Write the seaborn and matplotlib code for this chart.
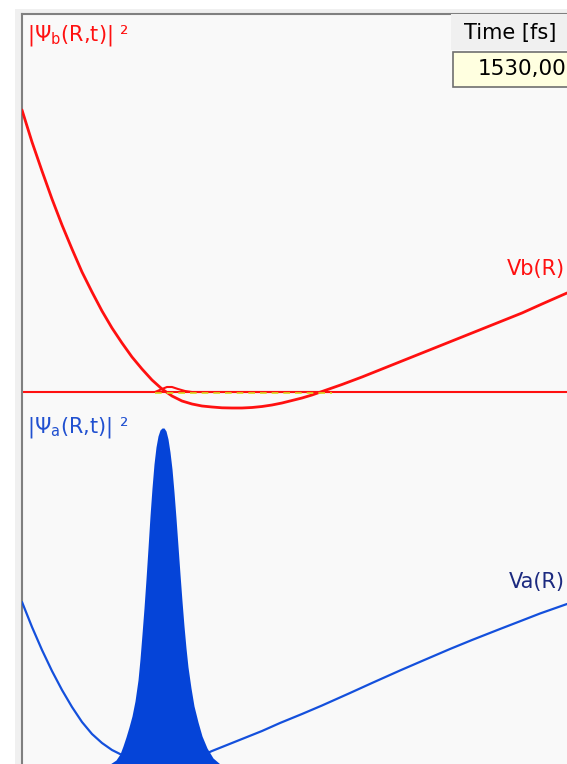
import numpy as np
import pandas as pd
import seaborn as sns
import matplotlib.pyplot as plt
from matplotlib.patches import Rectangle

# bond length R (arbitrary units) and energies
r_vb = [2.0, 2.1, 2.2, 2.3, 2.4, 2.5, 2.6, 2.7, 2.8, 2.9, 3.0, 3.1, 3.2, 3.3,
        3.4, 3.5, 3.6, 3.7, 3.8, 3.9, 4.0, 4.1, 4.2, 4.3, 4.4, 4.5, 4.6, 4.7,
        4.8, 4.9, 5.0, 5.2, 5.4, 5.6, 5.8, 6.0, 6.2, 6.4, 6.6, 6.8, 7.0, 7.2, 7.45]
vb = [6.54, 6.22, 5.93, 5.65, 5.39, 5.15, 4.92, 4.72, 4.53, 4.36, 4.21, 4.07,
      3.95, 3.84, 3.75, 3.68, 3.63, 3.60, 3.58, 3.57, 3.562, 3.56, 3.56, 3.565,
      3.575, 3.59, 3.61, 3.635, 3.66, 3.69, 3.725, 3.795, 3.87, 3.95, 4.03, 4.11,
      4.19, 4.27, 4.35, 4.43, 4.51, 4.60, 4.71]

r_va = [2.0, 2.1, 2.2, 2.3, 2.4, 2.5, 2.6, 2.7, 2.8, 2.9, 3.0, 3.1, 3.2, 3.3,
        3.41, 3.5, 3.6, 3.7, 3.81, 3.9, 4.0, 4.2, 4.4, 4.58, 4.8, 5.0, 5.28, 5.5,
        5.78, 6.0, 6.28, 6.5, 6.78, 7.0, 7.18, 7.45]
va = [1.62, 1.37, 1.14, 0.93, 0.74, 0.57, 0.42, 0.30, 0.21, 0.14, 0.09, 0.05,
      0.02, 0.00, -0.01, 0.00, 0.02, 0.05, 0.09, 0.13, 0.17, 0.25, 0.33, 0.41,
      0.50, 0.585, 0.71, 0.81, 0.935, 1.03, 1.15, 1.24, 1.35, 1.435, 1.505, 1.60]

# |Psi_a|^2 packet (drawn on top of E = 0)
r_pa = [2.88, 2.94, 2.98, 3.01, 3.04, 3.07, 3.10, 3.13, 3.16, 3.18, 3.20, 3.22,
        3.24, 3.26, 3.28, 3.30, 3.32, 3.34, 3.36, 3.38, 3.40, 3.41, 3.42, 3.44,
        3.46, 3.48, 3.50, 3.52, 3.54, 3.56, 3.58, 3.60, 3.62, 3.64, 3.66, 3.69,
        3.72, 3.76, 3.80, 3.85, 3.91, 3.98]
psi_a = [0.00, 0.04, 0.10, 0.18, 0.27, 0.37, 0.48, 0.63, 0.84, 1.05, 1.30, 1.56,
         1.85, 2.16, 2.48, 2.76, 3.00, 3.17, 3.28, 3.34, 3.36, 3.36, 3.36, 3.33,
         3.25, 3.12, 2.95, 2.72, 2.46, 2.18, 1.90, 1.63, 1.38, 1.16, 0.97, 0.76,
         0.58, 0.42, 0.28, 0.16, 0.06, 0.00]

# |Psi_b|^2 packet (tiny, sits on the horizontal line)
e_b = 3.72
r_pb = [3.33, 3.40, 3.45, 3.50, 3.56, 3.63, 3.70, 3.80, 4.00, 4.30, 4.60, 4.90, 5.10]
psi_b = [0.00, 0.03, 0.05, 0.05, 0.03, 0.01, 0.00, 0.00, 0.00, 0.00, 0.00, 0.00, 0.00]

time_fs = "1530,00"

red = "#ff1010"
blue = "#1450dc"

sns.set_theme(style="white")
plt.rcParams['font.family'] = ['DejaVu Sans']
plt.rcParams['mathtext.default'] = 'regular'

W, H = 567, 764
fig = plt.figure(figsize=(W / 100, H / 100), dpi=100, facecolor="white")
# grey window frame behind the plot area
fig.patches.append(Rectangle((15 / W, 0), 1, (H - 9) / H, transform=fig.transFigure,
                             facecolor="#f0f0f0", edgecolor="none", zorder=-5))
ax = fig.add_axes([22 / W, 0, (W - 22) / W, (H - 14) / H])
ax.set_facecolor("#f9f9f9")

df_b = pd.DataFrame({"R": r_vb, "V": vb})
df_a = pd.DataFrame({"R": r_va, "V": va})

ax.axhline(e_b, color=red, lw=1.5, zorder=2)
sns.lineplot(data=df_b, x="R", y="V", ax=ax, color=red, lw=2.0, zorder=3)
sns.lineplot(data=df_a, x="R", y="V", ax=ax, color=blue, lw=1.6, zorder=3)

pb = np.array(psi_b)
ax.plot(r_pb, e_b + pb, color=red, lw=1.5, zorder=4)
ax.plot(r_pb, np.full(len(r_pb), e_b - 0.012), color="#d8d820", lw=1.2,
        ls=(0, (4, 3)), zorder=4)

ax.fill_between(r_pa, 0, psi_a, color="#0544d8", lw=0, zorder=4)

ax.set_xlim(2.0, 7.45)
ax.set_ylim(0, 7.5)
ax.set_xticks([])
ax.set_yticks([])
ax.set_xlabel("")
ax.set_ylabel("")
for side in ["right", "bottom"]:
    ax.spines[side].set_visible(False)
for side in ["left", "top"]:
    ax.spines[side].set_color("#808080")
    ax.spines[side].set_linewidth(1.5)

fs = 15
fig.text(27 / W, 1 - 36 / H, "|Ψ$_b$(R,t)| ²", color=red, fontsize=fs, va="center")
fig.text(27 / W, 1 - 427 / H, "|Ψ$_a$(R,t)| ²", color="#2050d0", fontsize=fs, va="center")
ax.text(7.43, 4.95, "Vb(R)", color=red, fontsize=fs, ha="right", va="center")
ax.text(7.43, 1.82, "Va(R)", color="#1c2a80", fontsize=fs, ha="right", va="center")

# time display box in the top right corner
fig.patches.append(Rectangle((451 / W, 1 - 50 / H), 1, 36 / H, transform=fig.transFigure,
                             facecolor="#f0f0f0", edgecolor="none", zorder=5))
fig.patches.append(Rectangle((453 / W, 1 - 87 / H), 1, 35 / H, transform=fig.transFigure,
                             facecolor="#ffffe0", edgecolor="#707070", lw=1.2, zorder=5))
fig.text(510 / W, 1 - 33 / H, "Time [fs]", color="black", fontsize=fs,
         ha="center", va="center", zorder=6)
fig.text(566 / W, 1 - 69 / H, time_fs, color="black", fontsize=fs + 0.5,
         ha="right", va="center", zorder=6)

fig.savefig("out.png", dpi=100, facecolor="white")
